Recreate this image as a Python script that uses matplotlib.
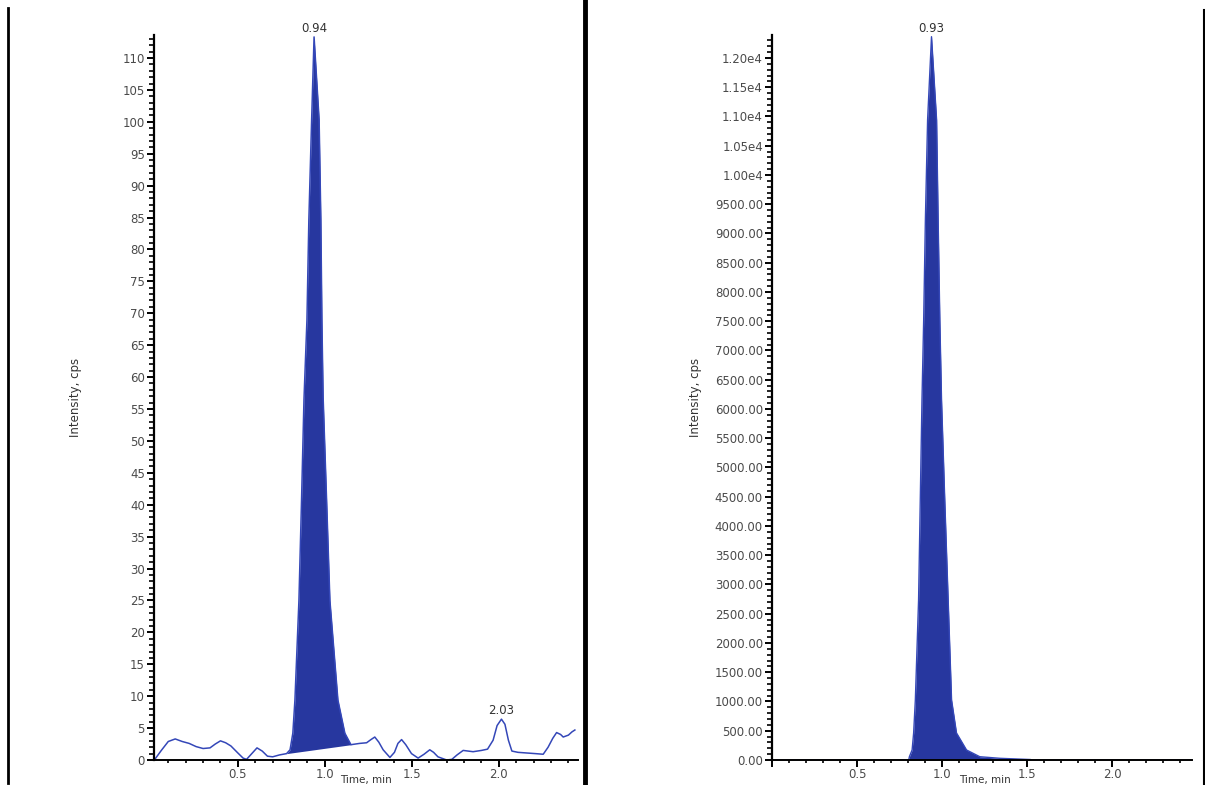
import matplotlib
matplotlib.use("Agg")
import matplotlib.pyplot as plt
from matplotlib.ticker import MultipleLocator, FuncFormatter
from matplotlib.lines import Line2D

plt.rcParams['font.family'] = ['DejaVu Sans']

# ---------------- data ----------------
# Left chromatogram: baseline noise + peak (time in min, intensity in cps)
left_time = [0.02, 0.06, 0.10, 0.14, 0.18, 0.22, 0.26, 0.30, 0.34, 0.37, 0.40, 0.43,
             0.46, 0.50, 0.53, 0.55, 0.58, 0.61, 0.64, 0.67, 0.70, 0.74, 0.78,
             0.80, 0.816, 0.828, 0.851, 0.866, 0.880, 0.897, 0.908, 0.924, 0.938,
             0.967, 0.977, 0.983, 0.990, 1.010, 1.029, 1.075, 1.115, 1.15,
             1.20, 1.24, 1.265, 1.287, 1.31, 1.335, 1.374, 1.40, 1.42, 1.441, 1.465,
             1.498, 1.536, 1.57, 1.603, 1.625, 1.65, 1.70, 1.73, 1.76, 1.795, 1.852,
             1.90, 1.935, 1.967, 1.99, 2.015, 2.035, 2.055, 2.075, 2.11, 2.16, 2.21,
             2.255, 2.283, 2.31, 2.332, 2.355, 2.37, 2.40, 2.42, 2.437]
left_cps = [0.0, 1.5, 2.9, 3.3, 2.9, 2.6, 2.1, 1.8, 1.9, 2.5, 3.0, 2.7,
            2.2, 1.1, 0.3, 0.1, 1.0, 1.9, 1.4, 0.6, 0.5, 0.8, 1.0,
            1.6, 4.2, 9.4, 25.0, 40.7, 56.5, 68.9, 84.6, 100.3, 113.3,
            100.3, 84.6, 68.9, 56.9, 40.7, 25.0, 9.4, 4.2, 2.4,
            2.6, 2.7, 3.2, 3.6, 2.8, 1.6, 0.4, 1.2, 2.6, 3.2, 2.4,
            1.0, 0.3, 0.9, 1.6, 1.2, 0.5, 0.0, 0.1, 0.8, 1.5, 1.3,
            1.5, 1.7, 3.1, 5.4, 6.4, 5.6, 3.1, 1.4, 1.2, 1.1, 1.0,
            0.9, 2.0, 3.4, 4.3, 4.0, 3.6, 3.9, 4.4, 4.7]
left_peak_start, left_peak_end = 0.78, 1.15      # integration baseline ends
left_labels = [("0.94", 0.938, 113.3), ("2.03", 2.015, 6.4)]

# Right chromatogram
right_time = [0.0, 0.804, 0.808, 0.824, 0.833, 0.843, 0.862, 0.872, 0.882, 0.892, 0.902,
              0.915, 0.938, 0.968, 0.977, 0.987, 0.997, 1.016, 1.036, 1.056, 1.085,
              1.144, 1.222, 1.34, 1.52, 1.53, 2.47]
right_cps = [0, 0, 56, 171, 462, 1026, 2735, 4444, 6154, 7521, 9231,
             10940, 12364, 10940, 9231, 7521, 6154, 4444, 2735, 1026, 462,
             171, 56, 29, 8, 0, 0]
right_labels = [("0.93", 0.938, 12364)]

left_yticks = list(range(0, 115, 5))
right_yticks = list(range(0, 12001, 500))

BLUE_FILL = '#27379f'
BLUE_LINE = '#3447b8'
TICK_COL = '#4a4a4a'
TXT_COL = '#333333'

fig = plt.figure(figsize=(12.05, 7.85), dpi=100)
W, H = 1205.0, 785.0

def px_axes(l, r, t, b):
    return fig.add_axes([l / W, (H - b) / H, (r - l) / W, (b - t) / H])

def style(ax):
    for s in ['top', 'right']:
        ax.spines[s].set_visible(False)
    ax.spines['left'].set_linewidth(1.6)
    ax.spines['bottom'].set_linewidth(1.4)
    ax.xaxis.set_major_locator(MultipleLocator(0.5))
    ax.xaxis.set_minor_locator(MultipleLocator(0.1))
    ax.tick_params(axis='both', which='major', direction='out', length=5, width=1.4,
                   labelsize=8.5, labelcolor=TICK_COL, pad=1.5)
    ax.tick_params(axis='x', which='major', pad=0.5)
    ax.tick_params(axis='y', which='minor', direction='out', length=3.5, width=1.2)
    ax.tick_params(axis='x', which='minor', direction='out', length=2.5, width=1.2)
    ax.xaxis.set_major_formatter(FuncFormatter(lambda v, p: "" if v < 0.25 else f"{v:.1f}"))
    ax.set_facecolor('white')

# ---------- left panel ----------
axL = px_axes(154, 578, 35, 760)
axL.set_xlim(0.018, 2.455)
axL.set_ylim(0, 113.6)
style(axL)
axL.set_yticks(left_yticks)
axL.yaxis.set_minor_locator(MultipleLocator(1))
axL.yaxis.set_major_formatter(FuncFormatter(lambda v, p: f"{int(round(v))}"))

# peak fill between trace and straight integration baseline
pk_t = [t for t in left_time if left_peak_start <= t <= left_peak_end]
pk_v = [v for t, v in zip(left_time, left_cps) if left_peak_start <= t <= left_peak_end]
b0, b1 = pk_v[0], pk_v[-1]
base = [b0 + (b1 - b0) * (t - pk_t[0]) / (pk_t[-1] - pk_t[0]) for t in pk_t]
axL.fill_between(pk_t, base, pk_v, color=BLUE_FILL, lw=0)
axL.plot(left_time, left_cps, color=BLUE_LINE, lw=1.1, clip_on=False)
for txt, t, v in left_labels:
    axL.annotate(txt, (t, v), xytext=(0, 1.5), textcoords='offset points',
                 ha='center', va='bottom', fontsize=8.5, color=TXT_COL,
                 annotation_clip=False)
axL.set_ylabel("Intensity, cps", fontsize=8.5, color=TXT_COL, labelpad=0)
axL.yaxis.set_label_coords((82 - 154) / 424.0, 0.5)

# ---------- right panel ----------
axR = px_axes(772, 1192, 35, 760)
axR.set_xlim(0.0, 2.47)
axR.set_ylim(0, 12393)
style(axR)
axR.set_yticks(right_yticks)
axR.yaxis.set_minor_locator(MultipleLocator(100))
axR.yaxis.set_major_formatter(FuncFormatter(
    lambda v, p: f"{v / 1e4:.2f}e4" if v >= 10000 else f"{v:.2f}"))
axR.fill_between(right_time, 0, right_cps, color=BLUE_FILL, lw=0)
axR.plot(right_time, right_cps, color=BLUE_LINE, lw=1.0)
for txt, t, v in right_labels:
    axR.annotate(txt, (t, v), xytext=(0, 1.5), textcoords='offset points',
                 ha='center', va='bottom', fontsize=8.5, color=TXT_COL,
                 annotation_clip=False)
axR.set_ylabel("Intensity, cps", fontsize=8.5, color=TXT_COL, labelpad=0)
axR.yaxis.set_label_coords((702 - 772) / 420.0, 0.5)

# x-axis titles at the very bottom edge
fig.text(366 / W, 0.0, "Time, min", ha='center', va='bottom', fontsize=7.5, color=TXT_COL)
fig.text(985 / W, 0.0, "Time, min", ha='center', va='bottom', fontsize=7.5, color=TXT_COL)

# panel borders from the screenshot
fig.add_artist(Line2D([8 / W, 8 / W], [(H - 783) / H, (H - 8) / H], color='black', lw=2.0))
fig.add_artist(Line2D([585 / W, 585 / W], [0, 1], color='black', lw=3.5))
fig.add_artist(Line2D([1203.5 / W, 1203.5 / W], [0, (H - 10) / H], color='black', lw=1.5))

fig.savefig("out.png", dpi=100, facecolor='white')
